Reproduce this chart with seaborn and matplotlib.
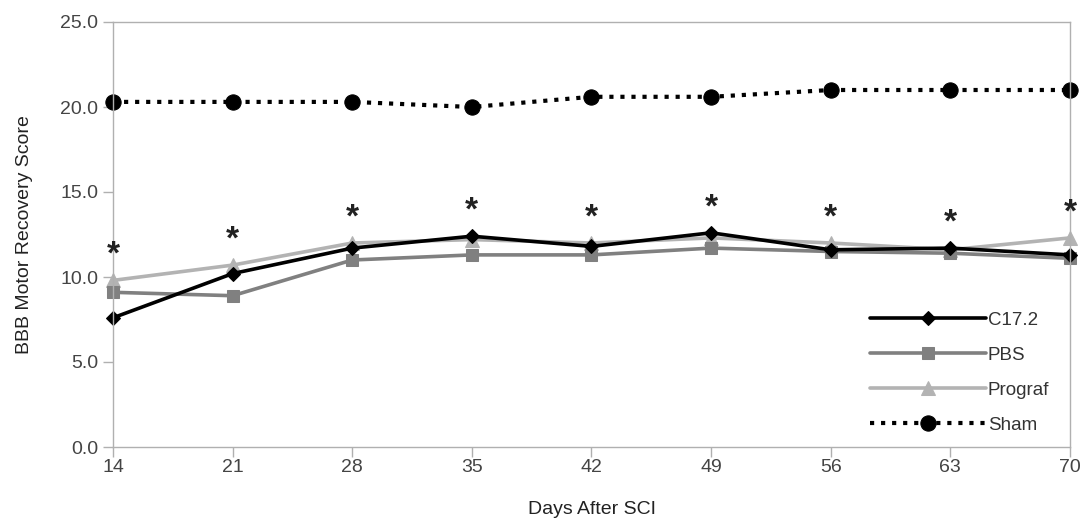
import matplotlib
matplotlib.use("Agg")
import matplotlib.pyplot as plt
import seaborn as sns
import pandas as pd

days = [14, 21, 28, 35, 42, 49, 56, 63, 70]
c172 = [7.6, 10.2, 11.7, 12.4, 11.8, 12.6, 11.6, 11.7, 11.3]
pbs = [9.1, 8.9, 11.0, 11.3, 11.3, 11.7, 11.5, 11.4, 11.1]
prograf = [9.8, 10.7, 12.0, 12.2, 12.0, 12.3, 12.0, 11.6, 12.3]
sham = [20.3, 20.3, 20.3, 20.0, 20.6, 20.6, 21.0, 21.0, 21.0]
y_ticks = [0, 5, 10, 15, 20, 25]

sns.set_style("white")
plt.rcParams['font.family'] = ['Liberation Sans', 'DejaVu Sans']

fig = plt.figure(figsize=(10.86, 5.23), dpi=100)
ax = fig.add_axes([113/1086, 1 - 447/523, (1070-113)/1086, (447-22)/523])

series = [
    ("Prograf", prograf, "#b3b3b3", "^", 10, "-"),
    ("PBS", pbs, "#808080", "s", 9, "-"),
    ("C17.2", c172, "#000000", "D", 7, "-"),
    ("Sham", sham, "#000000", "o", 11, ":"),
]
for name, vals, col, mk, ms, ls in series:
    df = pd.DataFrame({"day": days, "score": vals})
    sns.lineplot(data=df, x="day", y="score", ax=ax, color=col, marker=mk,
                 markersize=ms, linewidth=3 if ls == ":" else 2.6, linestyle=ls,
                 markeredgecolor=col, label=name, clip_on=False)

# significance asterisks
for i, d in enumerate(days):
    top = max(c172[i], pbs[i], prograf[i])
    ax.text(d, top + 0.55, "*", ha="center", va="bottom", fontsize=24,
            fontweight="bold", color="#222222", clip_on=False)

ax.set_xlim(14, 70)
ax.set_ylim(0, 25)
ax.set_xticks(days)
ax.set_yticks(y_ticks)
ax.set_yticklabels([f"{v:.1f}" for v in y_ticks])
ax.set_xlabel("Days After SCI", fontsize=14, color="#222222", labelpad=18)
ax.set_ylabel("BBB Motor Recovery Score", fontsize=14, color="#222222", labelpad=20)
for s in ax.spines.values():
    s.set_color("#b0b0b0")
    s.set_linewidth(1)
ax.tick_params(axis="both", which="both", direction="out", length=7, width=1,
               color="#b0b0b0", labelsize=14, labelcolor="#444444",
               left=True, bottom=True)
ax.tick_params(axis="x", pad=2)

h, l = ax.get_legend_handles_labels()
order = ["C17.2", "PBS", "Prograf", "Sham"]
hh = [h[l.index(o)] for o in order]
leg = ax.legend(hh, order, loc="lower right", bbox_to_anchor=(0.99, 0.005),
                frameon=False, fontsize=13.5, handlelength=6.2, labelspacing=0.95,
                handletextpad=0.1, borderaxespad=0.2)
for t in leg.get_texts():
    t.set_color("#333333")

fig.savefig("out.png", dpi=100)
